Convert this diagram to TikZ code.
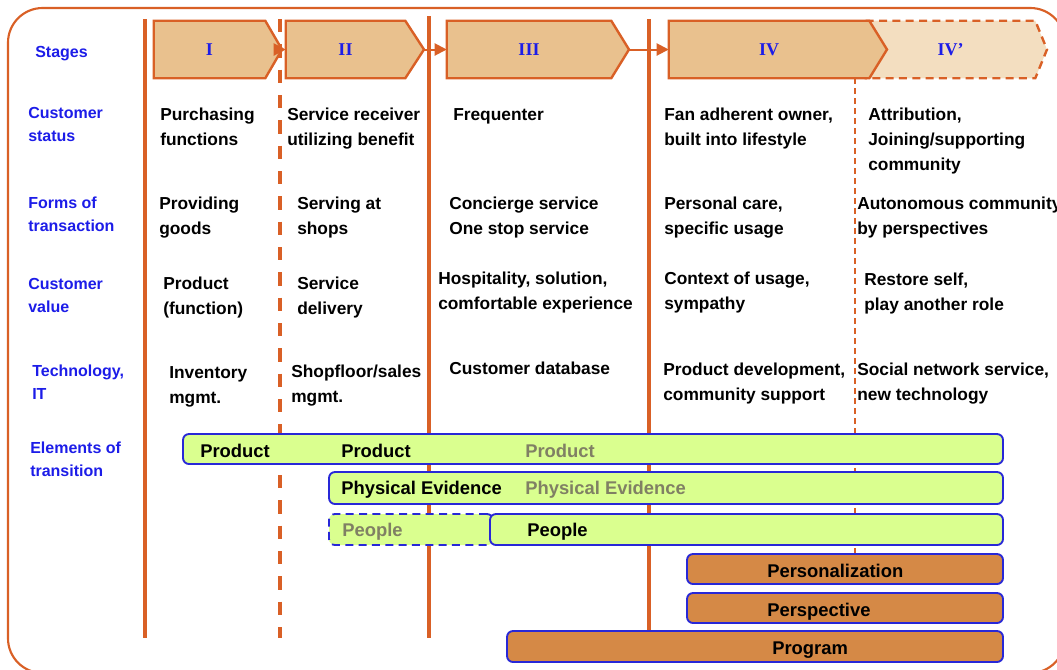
\documentclass[tikz,border=0pt]{standalone}
\usepackage{fontspec}
\setmainfont{Liberation Sans}
\newfontfamily\romanfont{Liberation Serif}
\usetikzlibrary{arrows.meta, fit, backgrounds}

\definecolor{lineorange}{RGB}{217,96,38}
\definecolor{stagefill}{RGB}{233,193,142}
\definecolor{stagelight}{RGB}{243,222,192}
\definecolor{labelblue}{RGB}{28,28,232}
\definecolor{bargreen}{RGB}{218,255,143}
\definecolor{barblue}{RGB}{40,40,215}
\definecolor{barorange}{RGB}{213,137,70}
\definecolor{fadedgray}{RGB}{128,128,100}

\begin{document}
\begin{tikzpicture}[
    x=0.75pt, y=-0.75pt,
    rowlabel/.style={
        anchor=north west,
        inner sep=0pt,
        align=left,
        text=labelblue,
        font=\fontsize{12}{17.25}\selectfont\bfseries
    },
    cell/.style={
        anchor=north west,
        inner sep=0pt,
        align=left,
        font=\fontsize{13}{18.75}\selectfont\bfseries
    },
    stagebody/.style={
        inner sep=0pt
    },
    stagelabel/.style={
        text=labelblue,
        font=\romanfont\fontsize{13.5}{14}\selectfont\bfseries
    },
    stageshape/.style={
        draw=lineorange,
        line width=1.8pt,
        fill=stagefill
    },
    greenbar/.style={
        draw=barblue,
        line width=1.4pt,
        fill=bargreen,
        rounded corners=4.5pt,
        inner sep=0pt
    },
    orangebar/.style={
        greenbar,
        fill=barorange
    },
    bartext/.style={
        anchor=base west,
        inner sep=0pt,
        font=\fontsize{13.8}{16}\selectfont\bfseries
    },
    fadedtext/.style={
        bartext,
        text=fadedgray
    },
    sepline/.style={
        draw=lineorange,
        line width=2.5pt
    },
    flow/.style={
        -{Triangle[length=9pt,width=9pt]},
        draw=lineorange,
        line width=1.5pt
    }
]
\useasboundingbox (0,0) rectangle (1057,669);
\clip (0,0) rectangle (1057,669);

% Stages
\node[stagebody, fit={(154,21) (265,78)}, label={[stagelabel]center:I}] (s1) {};
\node[stagebody, fit={(286,21) (405,78)}, label={[stagelabel]center:II}] (s2) {};
\node[stagebody, fit={(447,21) (611,78)}, label={[stagelabel]center:III}] (s3) {};
\node[stagebody, fit={(669,21) (869,78)}, label={[stagelabel]center:IV}] (s4) {};
\node[stagebody, fit={(866,21) (1035,78)}, label={[stagelabel]center:IV’}] (s5) {};
\coordinate (s1tip) at (282,49.5);
\coordinate (s2tip) at (424,49.5);
\coordinate (s3tip) at (629,49.5);
\coordinate (s4tip) at (887,49.5);
\coordinate (s5tip) at (1047,49.5);

\draw[flow] (s1tip) -- (s2.west);
\draw[flow] (s2tip) -- (s3.west);
\draw[flow] (s3tip) -- (s4.west);

% Row labels
\node[rowlabel] (lstages) at (35,46) {Stages};
\node[rowlabel] (lstatus) at (28,107) {Customer\\status};
\node[rowlabel] (lforms) at (28,197) {Forms of\\transaction};
\node[rowlabel] (lvalue) at (28,278) {Customer\\value};
\node[rowlabel] (ltech) at (32,365) {Technology,\\IT};
\node[rowlabel] (lelem) at (30,442) {Elements of\\transition};

% Customer status
\node[cell] (status1) at (160,108) {Purchasing\\functions};
\node[cell] (status2) at (287,108) {Service receiver\\utilizing benefit};
\node[cell] (status3) at (453,108) {Frequenter};
\node[cell] (status4) at (664,108) {Fan adherent owner,\\built into lifestyle};
\node[cell] (status5) at (868,108) {Attribution,\\Joining/supporting\\community};

% Forms of transaction
\node[cell] (forms1) at (159,197) {Providing\\goods};
\node[cell] (forms2) at (297,197) {Serving at\\shops};
\node[cell] (forms3) at (449,197) {Concierge service\\One stop service};
\node[cell] (forms4) at (664,197) {Personal care,\\specific usage};
\node[cell] (forms5) at (857,197) {Autonomous community\\by perspectives};

% Customer value
\node[cell] (value1) at (163,277) {Product\\(function)};
\node[cell] (value2) at (297,277) {Service\\delivery};
\node[cell] (value3) at (438,272) {Hospitality, solution,\\comfortable experience};
\node[cell] (value4) at (664,272) {Context of usage,\\sympathy};
\node[cell] (value5) at (864,273) {Restore self,\\play another role};

% Technology, IT
\node[cell] (tech1) at (169,366) {Inventory\\mgmt.};
\node[cell] (tech2) at (291,365) {Shopfloor/sales\\mgmt.};
\node[cell] (tech3) at (449,362) {Customer database};
\node[cell] (tech4) at (663,363) {Product development,\\community support};
\node[cell] (tech5) at (857,363) {Social network service,\\new technology};

% Elements of transition
\node[greenbar, fit={(183,434) (1003,464)}] (bar1) {};
\node[greenbar, fit={(329,472) (1003,504)}] (bar2) {};
\node[greenbar, dash pattern=on 6pt off 4pt, fit={(329,514) (493,545)}] (bar3a) {};
\node[greenbar, fit={(490,514) (1003,545)}] (bar3) {};
\node[orangebar, fit={(687,554) (1003,584)}] (bar4) {};
\node[orangebar, fit={(687,593) (1003,623)}] (bar5) {};
\node[orangebar, fit={(507,631) (1003,662)}] (bar6) {};

\node[bartext] (prod1) at (200,457) {Product};
\node[bartext] (prod2) at (341,457) {Product};
\node[fadedtext] (prod3) at (525,457) {Product};
\node[bartext] (phys1) at (341,494) {Physical Evidence};
\node[fadedtext] (phys2) at (525,494) {Physical Evidence};
\node[fadedtext] (peop1) at (342,536) {People};
\node[bartext] (peop2) at (527,536) {People};
\node[bartext] (pers) at (767,577) {Personalization};
\node[bartext] (persp) at (767,616) {Perspective};
\node[bartext] (prog) at (772,654) {Program};

\begin{scope}[on background layer]
% Frame and column lines
\draw[lineorange, line width=1.6pt, rounded corners=26pt] (8,8) rectangle (1065,673);
\draw[sepline] (145,19) -- (145,638);
\draw[sepline, dash pattern=on 10pt off 9pt] (280,19) -- (280,638);
\draw[sepline] (429,16) -- (429,638);
\draw[sepline] (649,19) -- (649,634);
\draw[sepline, line width=0.9pt, dash pattern=on 4.5pt off 3pt] (855,78) -- (855,556);

% Stage shapes
\draw[stageshape] (s1.north west) -- (s1.north east) -- (s1tip) -- (s1.south east) -- (s1.south west) -- cycle;
\draw[stageshape] (s2.north west) -- (s2.north east) -- (s2tip) -- (s2.south east) -- (s2.south west) -- cycle;
\draw[stageshape] (s3.north west) -- (s3.north east) -- (s3tip) -- (s3.south east) -- (s3.south west) -- cycle;
\draw[stageshape, fill=stagelight, dash pattern=on 6pt off 4pt] (s5.north west) -- (s5.north east) -- (s5tip) -- (s5.south east) -- (s5.south west) -- cycle;
\draw[stageshape] (s4.north west) -- (s4.north east) -- (s4tip) -- (s4.south east) -- (s4.south west) -- cycle;
\end{scope}

\end{tikzpicture}
\end{document}
